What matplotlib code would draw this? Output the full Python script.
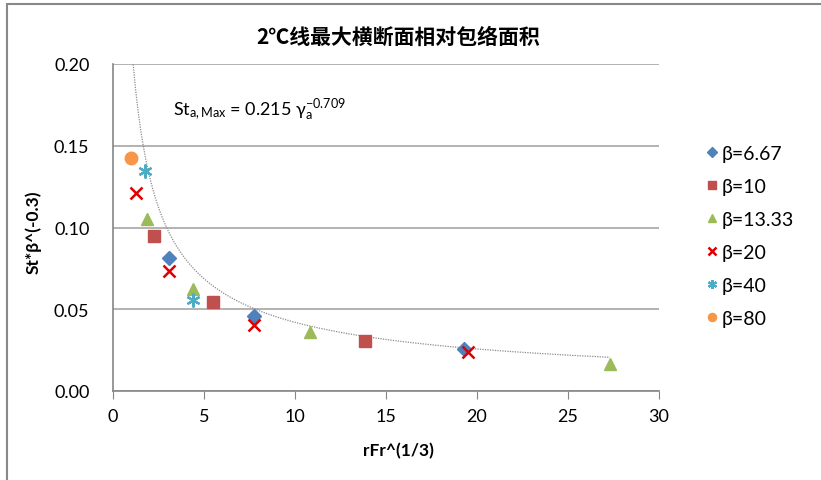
import numpy as np
import matplotlib
matplotlib.use("Agg")
import matplotlib.pyplot as plt
from matplotlib.patches import Rectangle

plt.rcParams['font.family'] = ['Lato', 'DejaVu Sans']
plt.rcParams['mathtext.fontset'] = 'custom'
plt.rcParams['mathtext.rm'] = 'Lato'
plt.rcParams['mathtext.it'] = 'Lato:italic'

# measured points, one group per beta
x_b667 = [3.10, 7.73, 19.30]
y_b667 = [0.0813, 0.0460, 0.0257]
x_b10 = [2.27, 5.51, 13.85]
y_b10 = [0.0950, 0.0542, 0.0304]
x_b1333 = [1.85, 4.41, 10.84, 27.30]
y_b1333 = [0.1050, 0.0622, 0.0359, 0.0164]
x_b20 = [1.26, 3.10, 7.73, 19.49]
y_b20 = [0.1210, 0.0736, 0.0406, 0.0237]
x_b40 = [1.78, 4.41]
y_b40 = [0.1347, 0.0558]
x_b80 = [1.00]
y_b80 = [0.1425]

# power trend line St = a * x^b
fit_a = 0.215
fit_b = -0.709

fig = plt.figure(figsize=(8.21, 4.81), dpi=100)
ax = fig.add_axes([113/821, 89/481, 546/821, 327/481])

# outer chart border
fig.patches.append(Rectangle((7/821, -0.1), 1.2, (476 + 48)/481, transform=fig.transFigure,
                             fill=False, edgecolor='#888888', linewidth=1.5))

xs = np.linspace(min(x_b80), max(x_b1333), 400)
ax.plot(xs, fit_a * xs**fit_b, linestyle=(0, (1, 1)), color='#8c8c8c', linewidth=0.9, zorder=2)

ax.plot(x_b667, y_b667, 'D', color='#4F81BD', markersize=7.5, label='β=6.67', zorder=3)
ax.plot(x_b10, y_b10, 's', color='#C0504D', markersize=9, label='β=10', zorder=3)
ax.plot(x_b1333, y_b1333, '^', color='#9BBB59', markersize=9, label='β=13.33', zorder=3)
ax.plot(x_b20, y_b20, 'x', color='#E00000', markersize=9, markeredgewidth=1.8, label='β=20', zorder=3)
ax.plot(x_b40, y_b40, marker=(6, 2, 0), linestyle='none', color='#4BACC6', markersize=10,
        markeredgewidth=1.6, label='β=40', zorder=3)
ax.plot(x_b80, y_b80, 'o', color='#F79646', markersize=9, label='β=80', zorder=3)

ax.set_xlim(0, 30)
ax.set_ylim(0, 0.20)
ax.set_xticks(np.arange(0, 31, 5))
ax.set_yticks(np.arange(0, 0.201, 0.05))
ax.set_yticklabels(['0.00', '0.05', '0.10', '0.15', '0.20'])
ax.tick_params(axis='x', direction='out', length=6, color='#868686', labelsize=13, pad=6)
ax.tick_params(axis='y', length=0, labelsize=13, pad=17)
ax.grid(axis='y', color='#a6a6a6', linewidth=1.2)
ax.set_axisbelow(True)
for side in ['right', 'top']:
    ax.spines[side].set_visible(False)
for side in ['left', 'bottom']:
    ax.spines[side].set_color('#868686')
    ax.spines[side].set_linewidth(1.2)

fig.text(398/821, 1 - 37/481, '2℃线最大横断面相对包络面积', family=['Noto Sans CJK SC', 'DejaVu Sans'],
         fontweight='bold', fontsize=15, ha='center', va='center')
fig.text(398/821, 1 - 451/481, 'rFr^(1/3)', fontweight='bold', fontsize=12.5, ha='center', va='center')
fig.text(33/821, 1 - 232/481, 'St*β^(-0.3)', fontweight='bold', fontsize=12.5, rotation=90,
         ha='center', va='center')

ax.text(3.3, 0.1725, r'St$_{\mathrm{a,Max}}$ = 0.215 γ$_{\mathrm{a}}^{\mathrm{-0.709}}$',
        fontsize=13, ha='left', va='center')

leg = fig.legend(loc='upper left', bbox_to_anchor=(694/821, 1 - 138/481), frameon=False,
                 fontsize=14, handletextpad=0.0, labelspacing=0.82, handlelength=1.0,
                 markerscale=0.65, borderaxespad=0)

plt.savefig('out.png', dpi=100)
